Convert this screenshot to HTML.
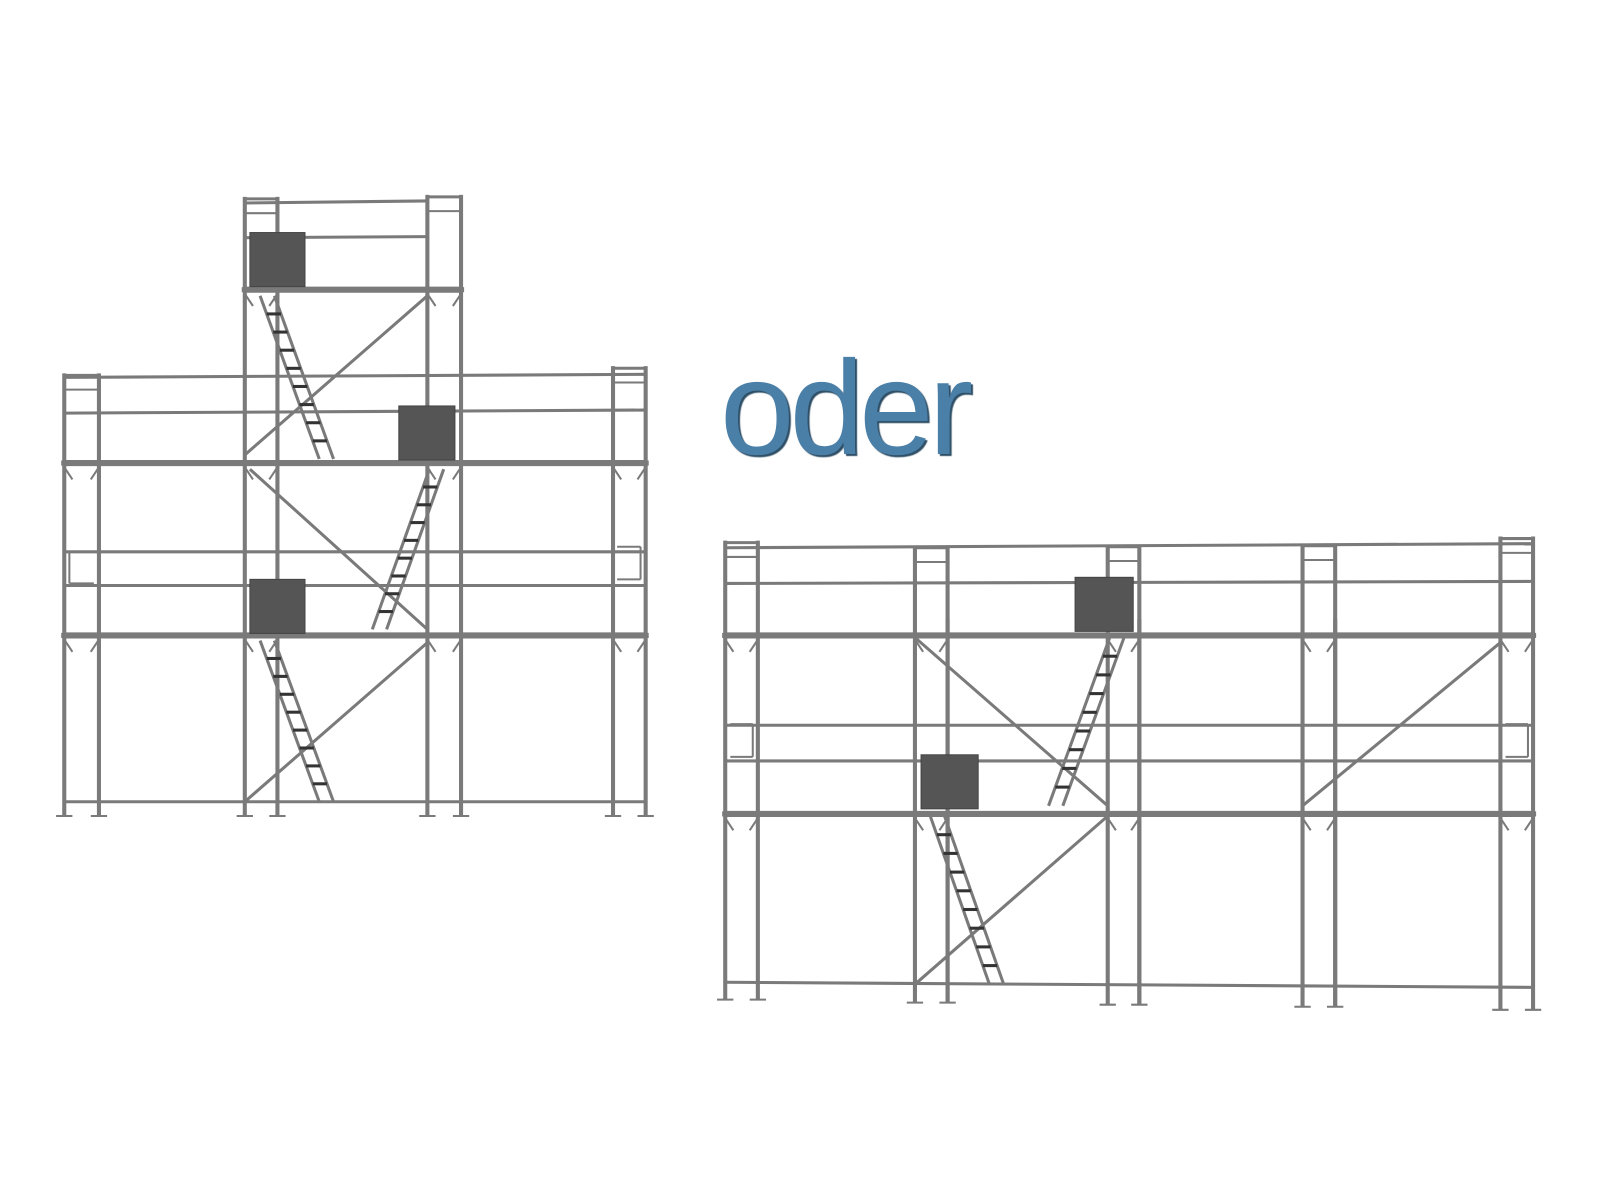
<!DOCTYPE html>
<html><head><meta charset="utf-8"><style>
html,body{margin:0;padding:0;background:#fff;width:1600px;height:1200px;overflow:hidden}
svg{position:absolute;left:0;top:0}
.t{position:absolute;left:720px;top:342px;font-family:"Liberation Sans",sans-serif;font-size:134px;line-height:1;color:#4a7fa8;text-shadow:2px 2px 1px #2f4f66;letter-spacing:-5px}
</style></head><body>
<svg id="s" width="1600" height="1200" xmlns="http://www.w3.org/2000/svg">
<g transform="scale(1.02)"><g id="g" stroke="#7a7a7a" stroke-width="4" fill="none" stroke-linecap="butt"></g></g>
</svg>
<div class="t">oder</div>
<script>
var g=document.getElementById('g'),NS='http://www.w3.org/2000/svg';
function L(x1,y1,x2,y2,w,c){var e=document.createElementNS(NS,'line');e.setAttribute('x1',x1);e.setAttribute('y1',y1);e.setAttribute('x2',x2);e.setAttribute('y2',y2);if(w)e.setAttribute('stroke-width',w);if(c)e.setAttribute('stroke',c);g.appendChild(e);}
function R(x1,y1,x2,y2){var e=document.createElementNS(NS,'rect');e.setAttribute('x',x1);e.setAttribute('y',y1);e.setAttribute('width',x2-x1);e.setAttribute('height',y2-y1);e.setAttribute('fill','#555');e.setAttribute('stroke','#444');e.setAttribute('stroke-width','1');g.appendChild(e);}
function lad(ax,ay,bx,by,n){var dx=14;L(ax,ay,bx,by,3);L(ax+dx,ay,bx+dx,by,3);for(var i=1;i<n;i++){var t=i/n;L(ax+(bx-ax)*t,ay+(by-ay)*t,ax+dx+(bx-ax)*t,ay+(by-ay)*t,3,'#333');}}
function frame(x1,x2,top,bot,decks){L(x1,top,x1,bot);L(x2,top,x2,bot);L(x1,top+2,x2,top+2,3);L(x1,top+16,x2,top+16,2);
 decks.forEach(function(d){L(x1-3,d,x2+3,d,5);L(x1,d+4,x1+8,d+16,2);L(x2,d+4,x2-8,d+16,2);});
 L(x1-8,bot,x1+8,bot,2);L(x2-8,bot,x2+8,bot,2);}
frame(63,97,366,800,[454,623]);
frame(601,633,359,800,[454,623]);
frame(240,272,193,800,[284,454,623]);
frame(419,452,191,800,[284,454,623]);
L(63,454,633,454,6);L(63,623,633,623,6);L(240,284,452,284,6);
L(63,370,633,367,3);L(63,405,633,402,3);L(63,541,633,541,3);L(63,574,633,574,3);
L(240,199,419,197,3);L(240,233,419,232,3);
L(63,786,633,786,3);
L(240,786,419,630,3);L(245,460,419,617,3);L(240,446,419,290,3);
lad(255,290,313,450,9);lad(365,617,421,460,9);lad(255,628,313,786,9);
R(245,228,299,281);R(391,398,446,451);R(245,568,299,621);
L(68,541,68,572,2);L(68,541,92,541,2);L(68,572,92,572,2);
L(605,536,628,536,2);L(628,536,628,568,2);L(605,568,628,568,2);
frame(711,743,530,980,[623,798]);
frame(1471,1503,526,990,[623,798]);
frame(897,929,535,983,[623,798]);
frame(1086,1117,534,985,[623,798]);
frame(1277,1309,533,987,[623,798]);
L(711,623,1503,623,6);L(711,798,1503,798,6);
L(711,537,1503,533,3);L(711,572,1503,570,3);L(711,711,1503,711,3);L(711,746,1503,746,3);
L(711,963,1503,968,3);
L(929,607,929,983);L(1117,607,1117,985);L(1309,607,1309,987);
L(897,625,1086,790,3);L(897,965,1086,800,3);L(1277,790,1471,630,3);
lad(1028,790,1088,625,9);lad(912,800,970,965,9);
R(1054,566,1111,619);R(903,740,959,793);
L(716,710,738,710,2);L(716,742,738,742,2);L(738,710,738,742,2);
L(1476,710,1498,710,2);L(1498,710,1498,742,2);L(1476,742,1498,742,2);
</script>
</body></html>
